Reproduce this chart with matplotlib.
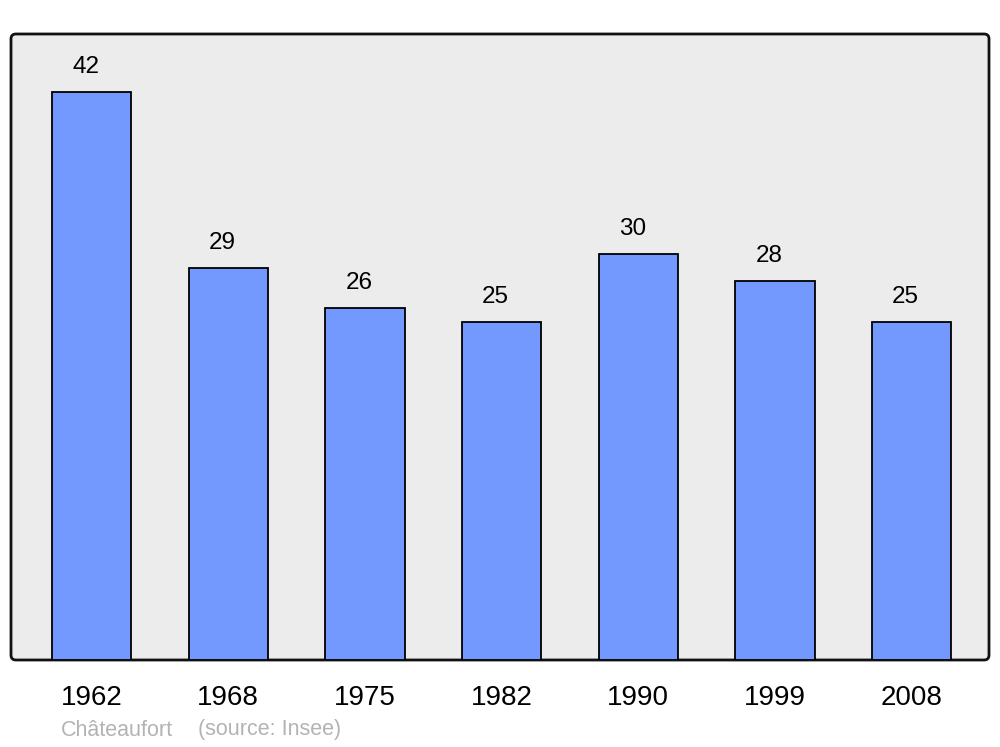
import matplotlib.pyplot as plt
from matplotlib.patches import FancyBboxPatch

years = ['1962', '1968', '1975', '1982', '1990', '1999', '2008']
population = [42, 29, 26, 25, 30, 28, 25]

plt.rcParams['font.family'] = ['Liberation Sans', 'DejaVu Sans']

fig = plt.figure(figsize=(10, 7.47), dpi=100)
ax = fig.add_axes([0.011, 87 / 747, 0.978, 626 / 747])
ax.set_facecolor('none')

# rounded grey panel behind the bars
panel = FancyBboxPatch((0, 0), 1, 1, boxstyle='round,pad=0,rounding_size=0.005',
                       mutation_aspect=978 / 626, transform=ax.transAxes,
                       facecolor='#ececec', edgecolor='#111111', linewidth=2,
                       zorder=0, clip_on=False)
ax.add_patch(panel)

x = list(range(len(years)))
ax.bar(x, population, width=0.58, color='#7399ff', edgecolor='black',
       linewidth=1.3, zorder=2)

for xi, v in zip(x, population):
    ax.annotate(str(v), (xi, v), xytext=(-6, 19), textcoords='offset pixels',
                ha='center', va='baseline', fontsize=17.5, zorder=3)

ax.set_xlim(-0.589, 6.566)
ax.set_ylim(0, 46.3)
ax.set_xticks(x)
ax.set_xticklabels(years, fontsize=20)
ax.set_yticks([])
ax.tick_params(axis='x', length=0, pad=18)
for s in ax.spines.values():
    s.set_visible(False)

fig.text(0.061, 17 / 747, 'Châteaufort', color='#b3b3b3', fontsize=15.5, va='center')
fig.text(0.198, 17 / 747, '(source: Insee)', color='#b3b3b3', fontsize=15.5, va='center')

plt.savefig('out.png', dpi=100)
plt.close()
